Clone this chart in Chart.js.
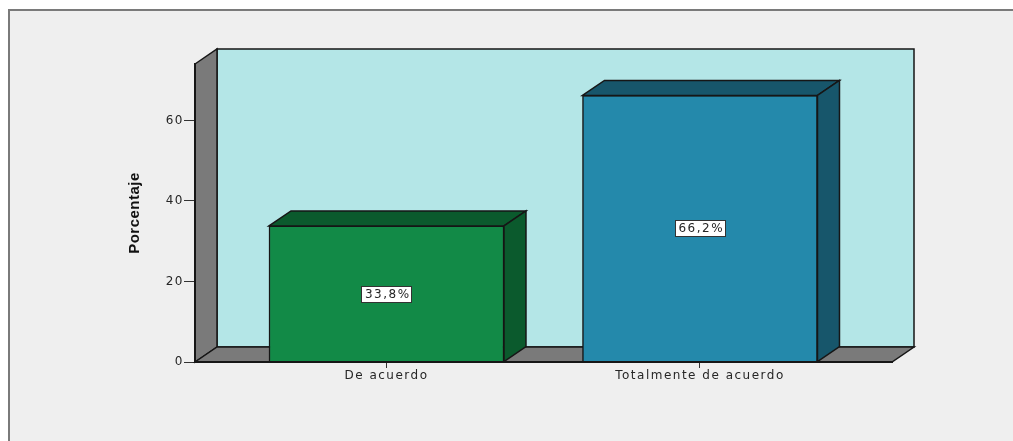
<!DOCTYPE html>
<html>
<head>
<meta charset="utf-8">
<script src="https://cdn.jsdelivr.net/npm/chart.js@4/dist/chart.umd.min.js"></script>
<style>
  html, body { margin: 0; padding: 0; background: #ffffff; }
  canvas { display: block; }
</style>
</head>
<body>
<canvas id="chart" width="1013" height="441"></canvas>
<script>
"use strict";

const categories = ["De acuerdo", "Totalmente de acuerdo"];
const percentages = [33.8, 66.2];
const yTicks = [0, 20, 40, 60];

(() => {
  const frontColors = ["#128a47", "#2489ab"];
  const shadeColors = ["#0b5a2d", "#17566b"];
  const wallColor = "#b4e6e7";
  const sideWallColor = "#7a7a7a";
  const edgeColor = "#161616";
  const textColor = "#262626";
  const tickFont = { family: "'DejaVu Sans', sans-serif", size: 12 };
  const spacing = 1.5;

  // depth of the 3D box, in pixels
  const depthX = 22;
  const depthY = -15;

  function polygon(ctx, points, fill) {
    ctx.beginPath();
    ctx.moveTo(points[0][0], points[0][1]);
    for (let i = 1; i < points.length; i++) {
      ctx.lineTo(points[i][0], points[i][1]);
    }
    ctx.closePath();
    ctx.fillStyle = fill;
    ctx.fill();
    ctx.lineWidth = 1.5;
    ctx.strokeStyle = edgeColor;
    ctx.stroke();
  }

  const boxPlugin = {
    id: "box3d",
    beforeDraw(chart) {
      const { ctx, width, height } = chart;
      ctx.save();
      ctx.fillStyle = "#ffffff";
      ctx.fillRect(0, 0, width, height);
      ctx.fillStyle = "#efefef";
      ctx.fillRect(8, 9, width - 8, height - 9);
      ctx.strokeStyle = "#7a7a7a";
      ctx.lineWidth = 2;
      ctx.beginPath();
      ctx.moveTo(9, height);
      ctx.lineTo(9, 10);
      ctx.lineTo(width, 10);
      ctx.stroke();
      ctx.restore();
      ctx.letterSpacing = "0.5px";
    },
    beforeDatasetsDraw(chart) {
      const { ctx } = chart;
      const { left: l, right: r, top: t, bottom: b } = chart.chartArea;
      ctx.save();
      // back wall, left wall, floor
      polygon(ctx, [[l + depthX, t + depthY], [r + depthX, t + depthY],
        [r + depthX, b + depthY], [l + depthX, b + depthY]], wallColor);
      polygon(ctx, [[l, t], [l + depthX, t + depthY],
        [l + depthX, b + depthY], [l, b]], sideWallColor);
      polygon(ctx, [[l, b], [l + depthX, b + depthY],
        [r + depthX, b + depthY], [r, b]], sideWallColor);
      ctx.restore();
    },
    afterDatasetsDraw(chart) {
      const { ctx } = chart;
      const bars = chart.getDatasetMeta(0).data;
      ctx.save();
      bars.forEach((bar, i) => {
        const { x, y, base, width } = bar.getProps(["x", "y", "base", "width"], true);
        const left = x - width / 2;
        const right = x + width / 2;
        polygon(ctx, [[left, y], [left + depthX, y + depthY],
          [right + depthX, y + depthY], [right, y]], shadeColors[i]);
        polygon(ctx, [[right, y], [right + depthX, y + depthY],
          [right + depthX, base + depthY], [right, base]], shadeColors[i]);
      });
      ctx.restore();

      // value boxes; the tick labels drawn after this keep the spacing
      ctx.letterSpacing = spacing + "px";
      ctx.save();
      ctx.font = `${tickFont.size}px ${tickFont.family}`;
      ctx.textAlign = "center";
      ctx.textBaseline = "middle";
      bars.forEach((bar, i) => {
        const { x, y, base } = bar.getProps(["x", "y", "base"], true);
        const cy = Math.round((y + base) / 2);
        const label = percentages[i].toFixed(1).replace(".", ",") + "%";
        const w = Math.round(ctx.measureText(label).width + 4);
        const h = 16;
        const bx = Math.round(x - w / 2);
        ctx.fillStyle = "#ffffff";
        ctx.fillRect(bx, cy - h / 2, w, h);
        ctx.strokeStyle = "#333333";
        ctx.lineWidth = 1;
        ctx.strokeRect(bx + 0.5, cy - h / 2 + 0.5, w, h);
        ctx.fillStyle = textColor;
        ctx.fillText(label, x + spacing / 2 + 0.5, cy + 1);
      });
      ctx.restore();
    },
  };

  new Chart(document.getElementById("chart"), {
    type: "bar",
    data: {
      datasets: [
        {
          data: percentages.map((v, i) => ({ x: i, y: v })),
          backgroundColor: frontColors,
          borderColor: edgeColor,
          borderWidth: 1.5,
          barThickness: 235,
        },
      ],
    },
    options: {
      responsive: false,
      animation: false,
      devicePixelRatio: 1,
      layout: { padding: { left: 0, right: 121, top: 64, bottom: 0 } },
      plugins: {
        legend: { display: false },
        tooltip: { enabled: false },
      },
      scales: {
        x: {
          type: "linear",
          offset: false,
          min: -0.6108,
          max: 1.6125,
          afterBuildTicks: (axis) => {
            axis.ticks = categories.map((_, i) => ({ value: i }));
          },
          afterFit: (axis) => {
            axis.height = 79;
          },
          ticks: {
            z: 1,
            autoSkip: false,
            maxRotation: 0,
            padding: 1,
            color: textColor,
            font: tickFont,
            callback: (value) => categories[value],
          },
          grid: {
            offset: false,
            drawOnChartArea: false,
            drawTicks: true,
            tickLength: 6,
            color: "#333333",
          },
          border: { display: true, color: edgeColor, width: 2, z: 1 },
        },
        y: {
          min: 0,
          max: 74,
          afterBuildTicks: (axis) => {
            axis.ticks = yTicks.map((v) => ({ value: v }));
          },
          afterFit: (axis) => {
            axis.width = 195;
          },
          ticks: {
            z: 1,
            padding: 0,
            color: textColor,
            font: tickFont,
          },
          grid: {
            drawOnChartArea: false,
            drawTicks: true,
            tickLength: 11,
            color: "#333333",
          },
          border: { display: true, color: edgeColor, width: 2, z: 1 },
          title: {
            display: true,
            text: "Porcentaje",
            color: "#111111",
            padding: { top: 126, bottom: 0 },
            font: {
              family: "'Liberation Sans Narrow', 'Liberation Sans', sans-serif",
              size: 15,
              weight: "bold",
            },
          },
        },
      },
    },
    plugins: [boxPlugin],
  });
})();
</script>
</body>
</html>
